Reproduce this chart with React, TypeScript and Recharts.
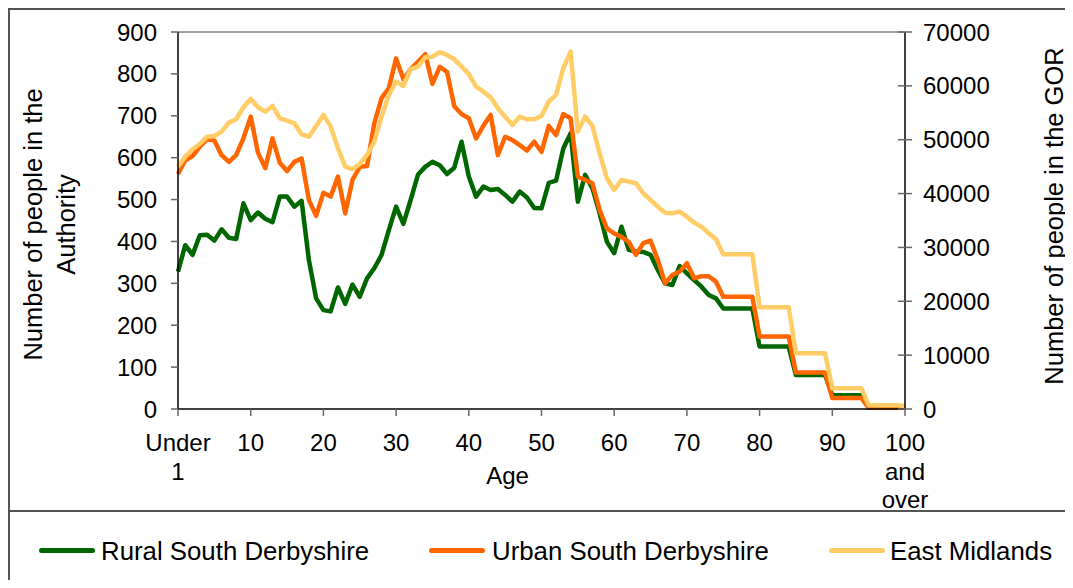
import { LineChart, Line, XAxis, YAxis, ReferenceLine } from 'recharts';

const FONT = '"Liberation Sans", Arial, Helvetica, sans-serif';

// x axis: single years of age, 0 ("Under 1") to 100 ("100 and over")
const ageTicks = [0, 10, 20, 30, 40, 50, 60, 70, 80, 90, 100];
const ageTickLabels: Record<number, string[]> = {
  0: ['Under', '1'],
  100: ['100', 'and', 'over'],
};
const authorityTicks = [0, 100, 200, 300, 400, 500, 600, 700, 800, 900];
const gorTicks = [0, 10000, 20000, 30000, 40000, 50000, 60000, 70000];

// people by single year of age (index = age)
const ruralSouthDerbyshire = [
  328, 391, 368, 415, 416, 402, 429, 409, 406, 491,
  451, 469, 454, 446, 507, 507, 483, 497, 356, 264,
  236, 233, 290, 251, 297, 268, 312, 336, 368, 427,
  483, 442, 499, 559, 578, 590, 582, 561, 576, 638,
  555, 507, 531, 523, 525, 511, 495, 519, 505, 480,
  479, 540, 545, 622, 658, 495, 559, 527, 467, 399,
  372, 435, 380, 376, 375, 368, 332, 300, 296, 341,
  324, 308, 292, 272, 264, 240, 240, 240, 240, 240,
  149, 149, 149, 149, 149, 81, 81, 81, 81, 81,
  33, 33, 33, 33, 33, 3, 3, 3, 3, 3,
  3,
];

const urbanSouthDerbyshire = [
  561, 594, 604, 626, 644, 641, 606, 590, 606, 646,
  698, 612, 575, 646, 588, 568, 590, 598, 499, 461,
  516, 507, 555, 467, 547, 578, 580, 682, 742, 766,
  837, 787, 811, 829, 847, 776, 817, 805, 723, 704,
  694, 646, 676, 702, 606, 650, 642, 630, 617, 638,
  614, 676, 654, 704, 694, 555, 547, 539, 475, 431,
  419, 411, 399, 368, 396, 402, 356, 300, 320, 328,
  348, 312, 317, 317, 304, 268, 268, 268, 268, 268,
  173, 173, 173, 173, 173, 87, 87, 87, 87, 87,
  26, 26, 26, 26, 26, 3, 3, 3, 3, 3,
  3,
];

const eastMidlands = [
  45000, 46860, 48230, 49210, 50570, 50700, 51500, 53170, 53800, 56030,
  57570, 56030, 55210, 56270, 53980, 53540, 53050, 51010, 50570, 52550,
  54600, 52420, 48410, 45000, 44510, 45500, 47170, 49640, 54280, 58310,
  60780, 59980, 63080, 63570, 65310, 65420, 66240, 65740, 64940, 63570,
  62210, 59850, 58920, 57880, 55840, 54280, 52740, 54280, 53800, 53800,
  54410, 57070, 58310, 63270, 66350, 51500, 54280, 52550, 47480, 42840,
  40670, 42530, 42210, 41910, 40060, 38810, 37570, 36450, 36340, 36640,
  35710, 34600, 33850, 32630, 31500, 28730, 28730, 28730, 28730, 28730,
  18890, 18890, 18890, 18890, 18890, 10340, 10340, 10340, 10340, 10340,
  3840, 3840, 3840, 3840, 3840, 700, 700, 700, 700, 700,
  500,
];

const series = [
  { key: 'rural', name: 'Rural South Derbyshire', color: '#006600', axis: 'left' },
  { key: 'urban', name: 'Urban South Derbyshire', color: '#FF6600', axis: 'left' },
  { key: 'region', name: 'East Midlands', color: '#FFCC66', axis: 'right' },
];

const data = ruralSouthDerbyshire.map((rural, age) => ({
  age,
  rural,
  urban: urbanSouthDerbyshire[age],
  region: eastMidlands[age],
}));

const renderAgeTick = (props: any) => {
  const { x, y, payload } = props;
  const lines = ageTickLabels[payload.value] ?? [String(payload.value)];
  return (
    <text x={x} y={y} textAnchor="middle" fontSize={24} fontFamily={FONT} fill="#000">
      {lines.map((l, i) => (
        <tspan key={i} x={x} dy={i === 0 ? '0.71em' : 28.5}>
          {l}
        </tspan>
      ))}
    </text>
  );
};

// right axis ticks cross the axis line, so draw the inner half here
const renderGorTick = (props: any) => {
  const { x, y, payload } = props;
  return (
    <g>
      <line x1={x - 25} x2={x - 18} y1={y} y2={y} stroke="#666" strokeWidth={1.5} />
      <text x={x} y={y} dy="0.355em" textAnchor="start" fontSize={24} fontFamily={FONT} fill="#000">
        {payload.value}
      </text>
    </g>
  );
};

const renderLeftLabel = (props: any) => {
  const vb = props.viewBox;
  const cy = vb.y + vb.height / 2 + 4;
  return (
    <text transform={`translate(0, ${cy}) rotate(-90)`} textAnchor="middle" fontSize={25.5} fontFamily={FONT} fill="#000">
      <tspan x={0} y={32}>Number of people in the</tspan>
      <tspan x={0} y={65}>Authority</tspan>
    </text>
  );
};

const renderRightLabel = (props: any) => {
  const vb = props.viewBox;
  const cy = vb.y + vb.height / 2 - 4.5;
  return (
    <text transform={`translate(1053, ${cy}) rotate(-90)`} textAnchor="middle" fontSize={25.5} fontFamily={FONT} fill="#000">
      Number of people in the GOR
    </text>
  );
};

const legendPos = [
  { line: 29, text: 91 },
  { line: 419, text: 482 },
  { line: 819, text: 880 },
];

export default function App() {
  return (
    <div
      style={{
        width: 1061,
        height: 570,
        borderLeft: '2px solid #555',
        borderTop: '2px solid #555',
        background: '#fff',
        fontFamily: FONT,
        overflow: 'hidden',
      }}
    >
      <style>{'.recharts-surface { overflow: visible; }'}</style>
      <LineChart width={1061} height={500} data={data} margin={{ top: 22, right: 0, bottom: 0, left: 0 }}>
        <XAxis
          dataKey="age"
          type="number"
          domain={[0, 100]}
          ticks={ageTicks}
          interval={0}
          height={101}
          tickSize={7}
          tickMargin={18}
          axisLine={{ stroke: '#000', strokeWidth: 1.5 }}
          tickLine={{ stroke: '#666', strokeWidth: 1.5 }}
          tick={renderAgeTick}
          label={{ value: 'Age', position: 'insideTop', offset: 58, dx: -34, fontSize: 24, fill: '#000', fontFamily: FONT }}
        />
        <YAxis
          yAxisId="left"
          orientation="left"
          domain={[0, 900]}
          ticks={authorityTicks}
          interval={0}
          width={168}
          tickSize={7}
          tickMargin={14}
          axisLine={{ stroke: '#000', strokeWidth: 1.5 }}
          tickLine={{ stroke: '#666', strokeWidth: 1.5 }}
          tick={{ fontSize: 24, fill: '#000', fontFamily: FONT }}
          label={renderLeftLabel}
        />
        <YAxis
          yAxisId="right"
          orientation="right"
          domain={[0, 70000]}
          ticks={gorTicks}
          interval={0}
          width={166}
          tickSize={7}
          tickMargin={11}
          axisLine={{ stroke: '#000', strokeWidth: 1.5 }}
          tickLine={{ stroke: '#666', strokeWidth: 1.5 }}
          tick={renderGorTick}
          label={renderRightLabel}
        />
        <ReferenceLine yAxisId="left" y={900} stroke="#808080" strokeWidth={1.5} />
        {series.map((s) => (
          <Line
            key={s.key}
            yAxisId={s.axis}
            type="linear"
            dataKey={s.key}
            name={s.name}
            stroke={s.color}
            strokeWidth={4.5}
            strokeLinejoin="round"
            dot={false}
            activeDot={false}
            isAnimationActive={false}
          />
        ))}
      </LineChart>
      <div style={{ borderTop: '2px solid #555', height: 68, position: 'relative' }}>
        {series.map((s, i) => (
          <div key={s.key}>
            <div
              style={{
                position: 'absolute',
                left: legendPos[i].line,
                top: 36,
                width: 56,
                height: 5,
                borderRadius: 3,
                background: s.color,
              }}
            />
            <div
              style={{
                position: 'absolute',
                left: legendPos[i].text,
                top: 39,
                transform: 'translateY(-50%)',
                fontSize: 25.8,
                lineHeight: '30px',
                color: '#000',
                whiteSpace: 'nowrap',
              }}
            >
              {s.name}
            </div>
          </div>
        ))}
      </div>
    </div>
  );
}
